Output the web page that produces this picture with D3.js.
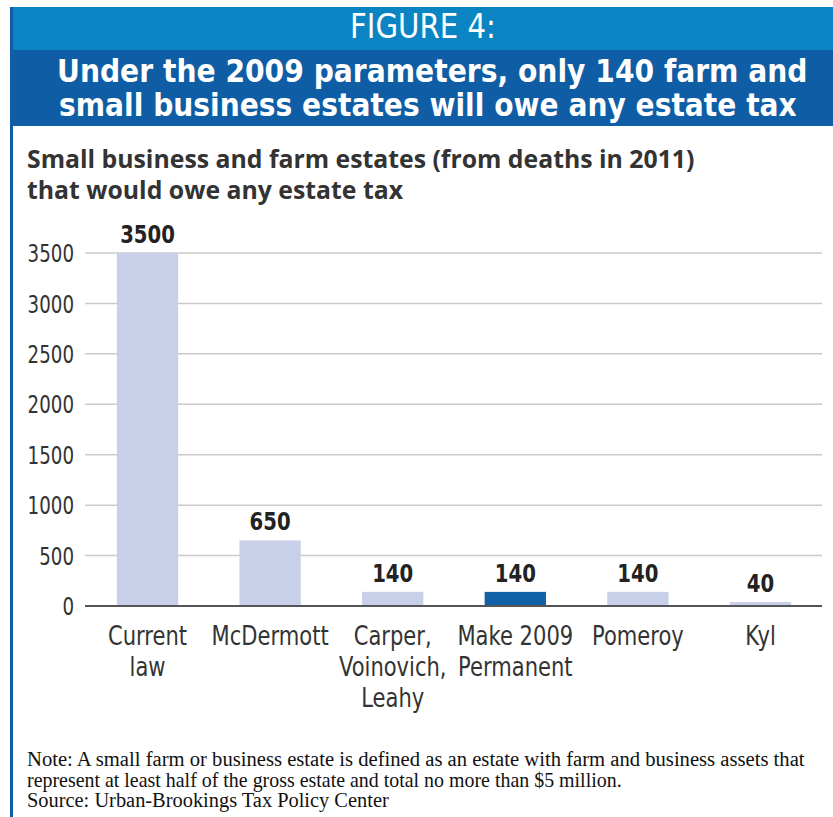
<!DOCTYPE html>
<html>
<head>
<meta charset="utf-8">
<script src="https://cdn.jsdelivr.net/npm/d3@7"></script>
<style>
  body { margin: 0; background: #fff; }
  .cond { font-family: 'DejaVu Sans', sans-serif; }
</style>
</head>
<body>
<script>
var categories = [["Current", "law"], ["McDermott"], ["Carper,", "Voinovich,", "Leahy"], ["Make 2009", "Permanent"], ["Pomeroy"], ["Kyl"]];
var values = [3500, 650, 140, 140, 140, 40];
var highlight = [false, false, false, true, false, false];
var yTicks = [0, 500, 1000, 1500, 2000, 2500, 3000, 3500];

var W = 833, H = 817;

// squeeze a text horizontally (no condensed face installed)
// f is a factor, or a function giving the wanted width in px
function condense(sel, f) {
    sel.each(function(d, i) {
        var t = d3.select(this);
        var w = this.getComputedTextLength();
        var k = typeof f === "function" ? f(d, i) / w : f;
        var x = +t.attr("x") || 0, y = +t.attr("y") || 0;
        t.attr("x", 0).attr("y", 0)
            .attr("transform", "translate(" + x + "," + y + ") scale(" + k + ",1)");
    });
}

var svg = d3.select("body").append("svg")
    .attr("width", W)
    .attr("height", H);

// header bands
svg.append("rect").attr("x", 10).attr("y", 7).attr("width", W - 10).attr("height", 44).attr("fill", "#0a84c2");
svg.append("rect").attr("x", 10).attr("y", 50).attr("width", W - 10).attr("height", 76).attr("fill", "#0f5ea5");
svg.append("rect").attr("x", 10).attr("y", 7).attr("width", 3).attr("height", H - 7).attr("fill", "#0f5ea5");

var fig = svg.append("text").text("FIGURE 4:")
    .attr("class", "cond")
    .attr("x", 423).attr("y", 38)
    .attr("text-anchor", "middle")
    .attr("font-size", "33px")
    .attr("fill", "#fff");
condense(fig, function() { return 146; });

var titleLines = ["Under the 2009 parameters, only 140 farm and", "small business estates will owe any estate tax"];
var titleW = [751, 738];
var titles = svg.selectAll(".title").data(titleLines).enter().append("text")
    .attr("class", "cond")
    .text(function(d) { return d; })
    .attr("x", function(d, i) { return 57 + (i ? 2 : 0); })
    .attr("y", function(d, i) { return 82 + i * 34; })
    .attr("font-weight", "bold").attr("font-size", "32px")
    .attr("fill", "#fff");
condense(titles, function(d, i) { return titleW[i]; });

var subLines = ["Small business and farm estates (from deaths in 2011)", "that would owe any estate tax"];
svg.selectAll(".sub").data(subLines).enter().append("text")
    .attr("class", "sub")
    .text(function(d) { return d; })
    .attr("x", 27)
    .attr("y", function(d, i) { return 168 + i * 31; })
    .attr("font-family", "'Open Sans', sans-serif").attr("font-weight", "bold").attr("font-size", "24.8px")
    .attr("fill", "#333");

// chart area
var x0 = 85, x1 = 823, yTop = 253, yBot = 606;

var xScale = d3.scaleBand()
    .domain(d3.range(values.length))
    .range([x0, x1])
    .paddingInner(0.5)
    .paddingOuter(0.26);

var yScale = d3.scaleLinear()
    .domain([0, 3500])
    .range([yBot, yTop]);

// gridlines
svg.selectAll(".grid").data(yTicks.slice(1)).enter().append("line")
    .attr("x1", x0).attr("x2", x1 - 1)
    .attr("y1", function(d) { return yScale(d); })
    .attr("y2", function(d) { return yScale(d); })
    .attr("stroke", "#cacaca").attr("stroke-width", 1.5);

var yAxis = d3.axisLeft(yScale).tickValues(yTicks).tickFormat(d3.format("d")).tickSize(0).tickPadding(11);
var gy = svg.append("g").attr("transform", "translate(" + x0 + ",0)").call(yAxis);
gy.select(".domain").remove();
gy.selectAll("text")
    .attr("font-family", "'DejaVu Sans', sans-serif")
    .attr("font-size", "24px").attr("fill", "#333")
    .attr("dy", "0.36em");
condense(gy.selectAll("text"), 0.76);

// bars
svg.selectAll(".bar").data(values).enter().append("rect")
    .attr("class", "bar")
    .attr("x", function(d, i) { return xScale(i); })
    .attr("y", function(d) { return yScale(d); })
    .attr("width", xScale.bandwidth())
    .attr("height", function(d) { return yBot - yScale(d); })
    .attr("fill", function(d, i) { return highlight[i] ? "#1060a8" : "#c8cfe8"; });

// baseline
svg.append("line")
    .attr("x1", x0).attr("x2", x1 - 1)
    .attr("y1", yBot).attr("y2", yBot)
    .attr("stroke", "#555").attr("stroke-width", 2);

// value labels
var vals = svg.selectAll(".val").data(values).enter().append("text")
    .attr("class", "cond")
    .text(function(d) { return d; })
    .attr("x", function(d, i) { return xScale(i) + xScale.bandwidth() / 2; })
    .attr("y", function(d) { return yScale(d) - 10; })
    .attr("text-anchor", "middle")
    .attr("font-weight", "bold").attr("font-size", "24px")
    .attr("fill", "#222");
condense(vals, 0.82);

// category labels, one text per line
var catLines = [];
categories.forEach(function(c, i) {
    c.forEach(function(s, j) { catLines.push({ s: s, i: i, j: j }); });
});
var cats = svg.selectAll(".cat").data(catLines).enter().append("text")
    .attr("class", "cond")
    .text(function(d) { return d.s; })
    .attr("x", function(d) { return xScale(d.i) + xScale.bandwidth() / 2; })
    .attr("y", function(d) { return 645 + d.j * 31; })
    .attr("text-anchor", "middle")
    .attr("font-size", "27px")
    .attr("fill", "#333");
condense(cats, 0.78);

// note
var notes = ["Note: A small farm or business estate is defined as an estate with farm and business assets that",
    "represent at least half of the gross estate and total no more than $5 million.",
    "Source: Urban-Brookings Tax Policy Center"];
var noteW = [778, 595, 362];
var noteTxt = svg.selectAll(".note").data(notes).enter().append("text")
    .text(function(d) { return d; })
    .attr("x", 27)
    .attr("y", function(d, i) { return 766 + i * 20.5; })
    .attr("font-family", "'Liberation Serif', serif").attr("font-size", "20px")
    .attr("fill", "#111");
condense(noteTxt, function(d, i) { return noteW[i]; });
</script>
</body>
</html>
